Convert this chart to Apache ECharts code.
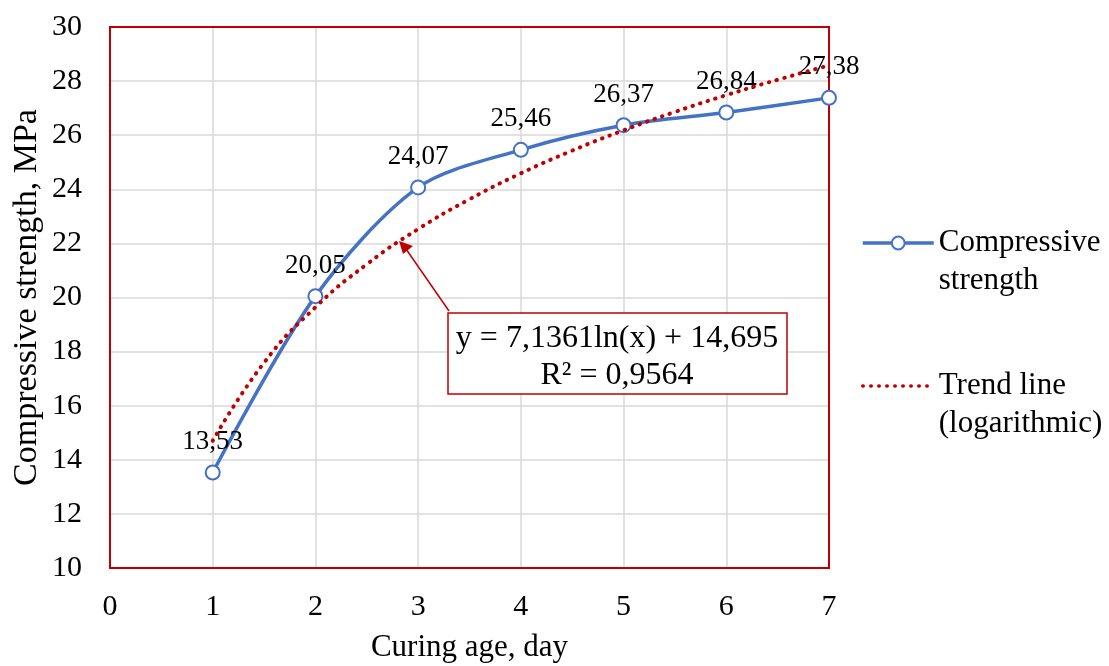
<!DOCTYPE html>
<html>
<head>
<meta charset="utf-8">
<script src="https://cdn.jsdelivr.net/npm/echarts@6/dist/echarts.min.js"></script>
<style>html,body{margin:0;padding:0;background:#fff}#c{width:1109px;height:666px}</style>
</head>
<body>
<div id="c"></div>
<script>
// Data
const curingDays = [1, 2, 3, 4, 5, 6, 7];
const strengthValues = [13.53, 20.05, 24.07, 25.46, 26.37, 26.84, 27.38];
const trendDays = [1, 1.5, 2, 2.5, 3, 3.5, 4, 4.5, 5, 5.5, 6, 6.5, 7];
const trendValues = [14.70, 17.59, 19.64, 21.23, 22.53, 23.63, 24.59, 25.43, 26.18, 26.86, 27.48, 28.05, 28.58];
const xTicks = [0, 1, 2, 3, 4, 5, 6, 7];
const yTicks = [10, 12, 14, 16, 18, 20, 22, 24, 26, 28, 30];
const seriesNames = ['Compressive\nstrength', 'Trend line\n(logarithmic)'];
const equationText = 'y = 7,1361ln(x) + 14,695';
const r2Text = 'R² = 0,9564';

const FONT = '"Liberation Serif", "Times New Roman", serif';
const BLUE = '#4472C4';
const RED = '#C00000';

const chart = echarts.init(document.getElementById('c'));
const fmt = v => String(v).replace('.', ',');

chart.setOption({
  animation: false,
  backgroundColor: '#fff',
  grid: { left: 110, right: 280, top: 27, bottom: 98, show: true, borderColor: RED, borderWidth: 2, z: 1, outerBoundsMode: 'none', containLabel: false },
  xAxis: {
    type: 'value', min: xTicks[0], max: xTicks[xTicks.length - 1], interval: 1,
    name: 'Curing age, day', nameLocation: 'middle', nameGap: 64,
    nameTextStyle: { fontFamily: FONT, fontSize: 31, color: '#000' },
    axisLine: { show: false }, axisTick: { show: false },
    axisLabel: { fontFamily: FONT, fontSize: 30, color: '#000', margin: 24 },
    splitLine: { show: true, lineStyle: { color: '#d9d9d9', width: 1.5 } }
  },
  yAxis: {
    type: 'value', min: yTicks[0], max: yTicks[yTicks.length - 1], interval: 2,
    name: 'Compressive strength, MPa', nameLocation: 'middle', nameGap: 66, nameMoveOverlap: false,
    nameTextStyle: { fontFamily: FONT, fontSize: 34, color: '#000' },
    axisLine: { show: false }, axisTick: { show: false },
    axisLabel: { fontFamily: FONT, fontSize: 30, color: '#000', margin: 28 },
    splitLine: { show: true, lineStyle: { color: '#d9d9d9', width: 1.5 } }
  },
  legend: {
    orient: 'vertical', left: 861, top: 186, itemGap: 29, padding: 0,
    itemWidth: 71, itemHeight: 16,
    formatter: name => ' \n' + name,
    textStyle: { fontFamily: FONT, fontSize: 31, color: '#000', lineHeight: 38 },
    data: [
      { name: seriesNames[0], lineStyle: { width: 3.5, color: BLUE } },
      { name: seriesNames[1], itemStyle: { opacity: 0 }, lineStyle: { width: 3.5, color: RED, type: [0.5, 7.5], cap: 'round' } }
    ]
  },
  series: [
    {
      name: seriesNames[0], type: 'line', z: 3,
      data: curingDays.map((d, i) => [d, strengthValues[i]]),
      smooth: 0.3,
      symbol: 'emptyCircle', symbolSize: 14,
      lineStyle: { color: BLUE, width: 3.5 },
      itemStyle: { color: BLUE, borderColor: BLUE, borderWidth: 2.5 },
      label: {
        show: true, position: 'top', distance: 9,
        fontFamily: FONT, fontSize: 27, color: '#000',
        formatter: p => fmt(p.value[1])
      }
    },
    {
      name: seriesNames[1], type: 'line', z: 4,
      data: trendDays.map((d, i) => [d, trendValues[i]]),
      smooth: true, symbol: 'none',
      lineStyle: { color: RED, width: 4, type: [0.5, 7.5], cap: 'round' },
      itemStyle: { color: RED }
    }
  ],
  graphic: [
    {
      type: 'line', z: 10,
      shape: { x1: 449, y1: 311, x2: 406, y2: 249 },
      style: { stroke: RED, lineWidth: 1.5 }
    },
    {
      type: 'polygon', z: 10,
      shape: { points: [[399, 241], [413, 246], [403, 254]] },
      style: { fill: RED }
    },
    {
      type: 'rect', z: 10,
      shape: { x: 448, y: 313, width: 339, height: 81 },
      style: { fill: '#fff', stroke: RED, lineWidth: 1.5 }
    },
    {
      type: 'text', z: 11, x: 617, y: 339,
      style: { text: equationText, font: '32px ' + FONT, fill: '#000', align: 'center', verticalAlign: 'middle' }
    },
    {
      type: 'text', z: 11, x: 617, y: 376,
      style: { text: r2Text, font: '32px ' + FONT, fill: '#000', align: 'center', verticalAlign: 'middle' }
    }
  ]
});
</script>
</body>
</html>
